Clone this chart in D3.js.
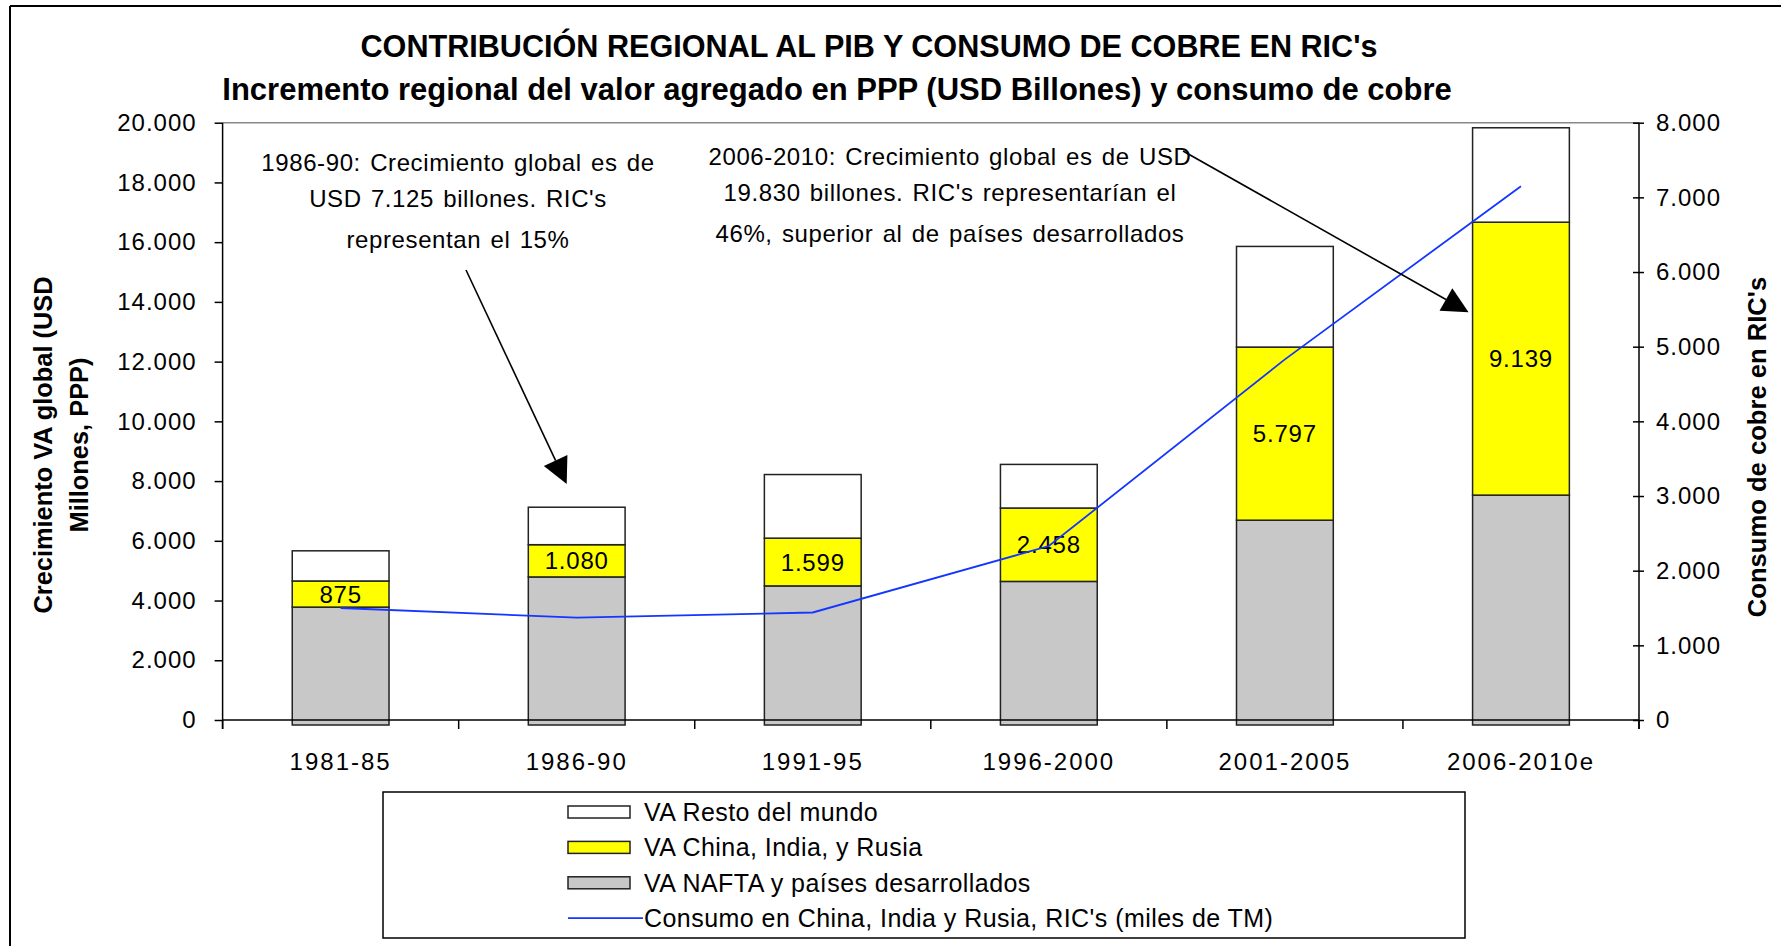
<!DOCTYPE html>
<html>
<head>
<meta charset="utf-8">
<script src="https://cdn.jsdelivr.net/npm/d3@7"></script>
<style>
  body { margin: 0; background: #fff; }
  text { font-family: "Liberation Sans", Arial, sans-serif; fill: #000; }
</style>
</head>
<body>
<svg id="chart" width="1781" height="946"></svg>
<script>
// data
const categories = ["1981-85", "1986-90", "1991-95", "1996-2000", "2001-2005", "2006-2010e"];
const vaNafta = [3780, 4790, 4490, 4640, 6690, 7530];
const vaRic = [875, 1080, 1599, 2458, 5797, 9139];
const vaResto = [1010, 1255, 2130, 1460, 3370, 3161];
const consumoRic = [1500, 1370, 1440, 2330, 4830, 7150];
const leftTicks = d3.range(0, 20001, 2000);
const rightTicks = d3.range(0, 8001, 1000);

const es = d3.formatLocale({decimal: ",", thousands: ".", grouping: [3], currency: ["", ""]});
const fmt = es.format(",d");

const svg = d3.select("#chart");
const x0 = 222.6, x1 = 1639, yTop = 122.7, yBase = 720;

const x = d3.scaleBand().domain(categories).range([x0, x1])
  .paddingInner(0.59).paddingOuter(0.295);
const step = (x1 - x0) / categories.length;
const yL = d3.scaleLinear().domain([0, 20000]).range([yBase, yTop]);
const yR = d3.scaleLinear().domain([0, 8000]).range([yBase, yTop]);

// outer frame (only top and left visible)
svg.append("line").attr("x1", 10).attr("x2", 1781).attr("y1", 6).attr("y2", 6)
  .attr("stroke", "#000").attr("stroke-width", 2);
svg.append("line").attr("x1", 10).attr("x2", 10).attr("y1", 6).attr("y2", 946)
  .attr("stroke", "#000").attr("stroke-width", 2);

// titles
svg.append("text").attr("x", 869).attr("y", 57).attr("text-anchor", "middle")
  .style("font-size", "30.6px").style("font-weight", "bold")
  .text("CONTRIBUCIÓN REGIONAL AL PIB Y CONSUMO DE COBRE EN RIC's");
svg.append("text").attr("x", 837).attr("y", 100).attr("text-anchor", "middle")
  .style("font-size", "31px").style("font-weight", "bold")
  .text("Incremento regional del valor agregado en PPP (USD Billones) y consumo de cobre");

// plot area top border
svg.append("line").attr("x1", x0).attr("x2", x1).attr("y1", yTop).attr("y2", yTop)
  .attr("stroke", "#888").attr("stroke-width", 1.5);

// stacked bars
const rows = categories.map((c, i) => ({cat: c, nafta: vaNafta[i], ric: vaRic[i], resto: vaResto[i]}));
const series = d3.stack().keys(["nafta", "ric", "resto"])(rows);
const fills = {nafta: "#c8c8c8", ric: "#ffff00", resto: "#ffffff"};

svg.append("g").selectAll("g").data(series).join("g")
  .attr("fill", d => fills[d.key])
  .selectAll("rect").data(d => d.map(v => ({v, key: d.key}))).join("rect")
    .attr("x", d => x(d.v.data.cat))
    .attr("width", x.bandwidth())
    .attr("y", d => yL(d.v[1]))
    .attr("height", d => yL(d.v[0]) - yL(d.v[1]) + (d.key === "nafta" ? 5 : 0))
    .attr("stroke", "#222").attr("stroke-width", 1.5);

// value labels in the yellow segment
svg.append("g").selectAll("text").data(series[1]).join("text")
  .attr("x", d => x(d.data.cat) + x.bandwidth() / 2)
  .attr("y", d => (yL(d[0]) + yL(d[1])) / 2)
  .attr("dy", "0.36em")
  .attr("text-anchor", "middle")
  .style("font-size", "24px").style("letter-spacing", "0.8px")
  .text(d => fmt(d.data.ric));

// consumption line
const line = d3.line()
  .x((d, i) => x(categories[i]) + x.bandwidth() / 2)
  .y(d => yR(d));
svg.append("path").datum(consumoRic)
  .attr("d", line).attr("fill", "none")
  .attr("stroke", "#1436ff").attr("stroke-width", 1.8);

// left axis
const gL = svg.append("g").attr("transform", `translate(${x0},0)`)
  .call(d3.axisLeft(yL).tickValues(leftTicks).tickFormat(fmt).tickSize(8).tickPadding(18));
gL.select(".domain").attr("d", `M0,${yTop}V${yBase + 9}`).attr("stroke-width", 1.5);
gL.selectAll(".tick line").attr("stroke-width", 1.5);
gL.selectAll("text").style("font-size", "24px").style("letter-spacing", "1px")
  .style("font-family", "'Liberation Sans', Arial, sans-serif");

// right axis
const gR = svg.append("g").attr("transform", `translate(${x1},0)`)
  .call(d3.axisRight(yR).tickValues(rightTicks).tickFormat(fmt).tickSize(0).tickPadding(17));
gR.select(".domain").attr("d", `M0,${yTop}V${yBase + 9}`).attr("stroke-width", 1.5);
gR.selectAll(".tick line").attr("x1", -6).attr("x2", 5).attr("stroke-width", 1.5);
gR.selectAll("text").style("font-size", "24px").style("letter-spacing", "1px")
  .style("font-family", "'Liberation Sans', Arial, sans-serif");

// x axis
svg.append("line").attr("x1", x0).attr("x2", x1).attr("y1", yBase).attr("y2", yBase)
  .attr("stroke", "#000").attr("stroke-width", 1.5);
svg.append("g").selectAll("line").data(d3.range(categories.length + 1)).join("line")
  .attr("x1", i => x0 + i * step).attr("x2", i => x0 + i * step)
  .attr("y1", yBase).attr("y2", yBase + 9)
  .attr("stroke", "#000").attr("stroke-width", 1.5);
svg.append("g").selectAll("text").data(categories).join("text")
  .attr("x", d => x(d) + x.bandwidth() / 2)
  .attr("y", yBase + 50)
  .attr("text-anchor", "middle")
  .style("font-size", "24px").style("letter-spacing", "2px")
  .text(d => d);

// axis titles
const leftTitle = svg.append("text")
  .attr("transform", "translate(52,445) rotate(-90)")
  .attr("text-anchor", "middle")
  .style("font-size", "25.4px").style("font-weight", "bold");
leftTitle.append("tspan").attr("x", 0).attr("y", 0).text("Crecimiento VA global (USD");
leftTitle.append("tspan").attr("x", 0).attr("y", 36).text("Millones, PPP)");

svg.append("text")
  .attr("transform", "translate(1766,447) rotate(-90)")
  .attr("text-anchor", "middle")
  .style("font-size", "25.6px").style("font-weight", "bold")
  .text("Consumo de cobre en RIC's");

// annotations
const notes = [
  {x: 458, ys: [171, 207, 248], lines: ["1986-90: Crecimiento global es de", "USD 7.125 billones. RIC's", "representan el 15%"]},
  {x: 950, ys: [165, 201, 242], lines: ["2006-2010: Crecimiento global es de USD", "19.830 billones. RIC's representarían el", "46%, superior al de países desarrollados"]}
];
notes.forEach(n => {
  svg.append("g").selectAll("text").data(n.lines).join("text")
    .attr("x", n.x).attr("y", (d, i) => n.ys[i])
    .attr("text-anchor", "middle")
    .style("font-size", "24px").style("letter-spacing", "0.6px").style("word-spacing", "2px")
    .text(d => d);
});

// arrows, tips anchored to the bars
const arrows = [
  {from: [466, 270], to: [x("1986-90") + x.bandwidth() / 2 - 10, yL(7900)]},
  {from: [1183, 151], to: [x("2006-2010e") - 4, yL(13650)]}
];
arrows.forEach(a => {
  const [fx, fy] = a.from, [tx, ty] = a.to;
  const ang = Math.atan2(ty - fy, tx - fx);
  const len = 26, half = 13;
  const bx = tx - len * Math.cos(ang), by = ty - len * Math.sin(ang);
  svg.append("line").attr("x1", fx).attr("y1", fy).attr("x2", bx).attr("y2", by)
    .attr("stroke", "#000").attr("stroke-width", 1.6);
  const pts = [
    [tx, ty],
    [bx + half * Math.sin(ang), by - half * Math.cos(ang)],
    [bx - half * Math.sin(ang), by + half * Math.cos(ang)]
  ];
  svg.append("path").attr("d", "M" + pts.join("L") + "Z").attr("fill", "#000");
});

// legend
const legend = svg.append("g");
legend.append("rect").attr("x", 383).attr("y", 792).attr("width", 1082).attr("height", 146)
  .attr("fill", "#fff").attr("stroke", "#000").attr("stroke-width", 1.5);
const legendItems = [
  {label: "VA Resto del mundo", type: "rect", fill: "#ffffff"},
  {label: "VA China, India, y Rusia", type: "rect", fill: "#ffff00"},
  {label: "VA NAFTA y países desarrollados", type: "rect", fill: "#c8c8c8"},
  {label: "Consumo en China, India y Rusia, RIC's (miles de TM)", type: "line", stroke: "#1436ff"}
];
const li = legend.selectAll("g.item").data(legendItems).join("g")
  .attr("class", "item")
  .attr("transform", (d, i) => `translate(0,${812 + i * 35.4})`);
li.filter(d => d.type === "rect").append("rect")
  .attr("x", 568).attr("y", -6).attr("width", 62).attr("height", 12)
  .attr("fill", d => d.fill).attr("stroke", "#222").attr("stroke-width", 1.5);
li.filter(d => d.type === "line").append("line")
  .attr("x1", 568).attr("x2", 643).attr("y1", 0).attr("y2", 0)
  .attr("stroke", d => d.stroke).attr("stroke-width", 1.8);
li.append("text").attr("x", 644).attr("y", 0).attr("dy", "0.36em")
  .style("font-size", "25px").style("letter-spacing", "0.45px")
  .text(d => d.label);
</script>
</body>
</html>
